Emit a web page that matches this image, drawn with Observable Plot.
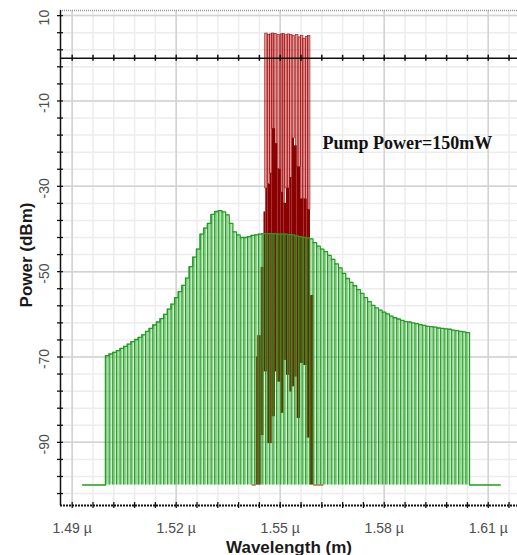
<!DOCTYPE html>
<html><head><meta charset="utf-8">
<script src="https://cdn.jsdelivr.net/npm/d3@7"></script>
<script src="https://cdn.jsdelivr.net/npm/@observablehq/plot@0.6"></script>
<style>
html,body{margin:0;padding:0;background:#fff;}
#chart{width:517px;height:555px;overflow:hidden;}
</style></head><body><div id="chart"></div>
<script>
// ---- axes / ticks ----
const xDomain = [1.48663, 1.61844];
const yDomain = [-104.8, 11.2];
const xMajorTicks = [1.49, 1.52, 1.55, 1.58, 1.61];
const xMinorTicks = [1.490,1.496,1.502,1.508,1.514,1.520,1.526,1.532,1.538,1.544,1.550,1.556,1.562,1.568,1.574,1.580,1.586,1.592,1.598,1.604,1.610,1.616];
const yMajorTicks = [10, -10, -30, -50, -70, -90];
const yMinorTicks = [10,6,2,-2,-6,-10,-14,-18,-22,-26,-30,-34,-38,-42,-46,-50,-54,-58,-62,-66,-70,-74,-78,-82,-86,-90,-94,-98,-102];
const floorLevel = -100;
const refLevel = 0;

// ---- green series (WDM channels) ----
const greenStart = 1.4996;
const greenSpacing = 0.00105;
const greenFloorLeft = 1.493;
const greenFloorRight = 1.6135;
const greenPower = [
 -69.7,-69.3,-68.9,-68.5,-68.0,-67.5,-67.0,-66.4,-65.9,-65.4,
 -64.8,-64.0,-63.3,-62.5,-61.8,-61.0,-60.0,-58.8,-57.6,-56.1,
 -54.7,-53.2,-51.5,-48.8,-46.6,-44.7,-41.2,-39.8,-38.7,-36.6,
 -35.9,-35.7,-36.0,-36.7,-38.7,-40.7,-41.4,-42.0,-42.0,-41.8,
 -41.5,-41.4,-41.2,-41.1,-41.1,-41.1,-41.1,-41.2,-41.2,-41.2,
 -41.3,-41.4,-41.6,-41.8,-42.0,-42.1,-42.3,-43.2,-44.0,-44.7,
 -45.3,-46.2,-47.1,-48.2,-49.1,-50.4,-51.6,-52.5,-53.3,-54.2,
 -55.1,-56.1,-57.0,-57.9,-58.5,-59.0,-59.5,-59.9,-60.4,-60.8,
 -61.1,-61.4,-61.7,-61.8,-62.0,-62.2,-62.4,-62.6,-62.8,-62.9,
 -63.0,-63.2,-63.3,-63.4,-63.5,-63.7,-63.8,-64.0,-64.1,-64.3];

// ---- red series (pumped signal) ----
const redColEdges = [1.54316,1.54353,1.54451,1.54532,1.54584,1.54642,1.54720,1.54769,1.54864,1.54930,1.55028,1.55103,1.55181,1.55276,1.55346,1.55412,1.55490,1.55585,1.55680,1.55778,1.55873,1.55969];
const redColTop    = [-70,-65,-49,-36,-30.5,-29.5,-27,-16.5,-20,-26,-31.5,-34,-30.5,-28,-18.8,-20.5,-25.5,-33,-33,-35.5,-55.6];
const redColBottom = [-100,-100,-88.4,-73.5,-73.5,-90.3,-90.3,-84,-73.5,-75.9,-83.2,-70.8,-74.3,-78.2,-77,-74.7,-84.4,-71.5,-72,-89,-100];
const redSpikeWl   = [1.54604,1.54671,1.54740,1.54798,1.54864,1.54959,1.55057,1.55103,1.55181,1.55247,1.55317,1.55392,1.55490,1.55565,1.55634,1.55700,1.55778,1.55836];
const redSpikePeak = [5.8,5.5,5.6,5.8,5.7,5.5,5.6,5.7,5.4,5.6,5.5,5.2,5.5,4.9,5.3,4.6,5.0,5.2];
const redFloorStart = [1.54192, 1.55969];
const redFloorEnd   = [1.54316, 1.56257];

const annotationText = ["Pump Power=150mW"];
const annotationWl = [1.5622];
const annotationDbm = [-20];

// ---- build tables ----
const greenBars = greenPower.map((v, i) => ({x1: greenStart + i * greenSpacing, x2: greenStart + (i + 1) * greenSpacing, v}));
const greenOutline = [{x: greenFloorLeft, v: floorLevel}]
  .concat(greenBars.map(d => ({x: d.x1, v: d.v})))
  .concat([{x: greenBars[greenBars.length - 1].x2, v: floorLevel}, {x: greenFloorRight, v: floorLevel}]);
const redCols = redColTop.map((t, i) => ({x1: redColEdges[i], x2: redColEdges[i + 1], top: t, bottom: redColBottom[i]}));
const baseAt = wl => { const c = redCols.find(c => wl >= c.x1 && wl < c.x2); return c ? c.top : -40; };
const redSpikes = redSpikeWl.map((wl, i) => ({wl, peak: redSpikePeak[i], base: baseAt(wl)}));
const redFloor = redFloorStart.map((s, i) => ({x1: s, x2: redFloorEnd[i]}));
const annotations = annotationText.map((t, i) => ({t, wl: annotationWl[i], dbm: annotationDbm[i]}));
const halfSpike = 0.00036;

const chart = Plot.plot({
  width: 517, height: 555,
  marginLeft: 60, marginRight: 0, marginTop: 10, marginBottom: 50,
  x: {domain: xDomain, axis: null},
  y: {domain: yDomain, axis: null},
  style: {fontFamily: "'Liberation Sans', Arial, sans-serif", background: "#fff", overflow: "visible"},
  marks: [
    // grid
    Plot.ruleX(xMinorTicks, {x: d => d, stroke: "#ececec", strokeWidth: 1.5}),
    Plot.ruleY(yMinorTicks, {y: d => d, stroke: "#ececec", strokeWidth: 1.5}),
    Plot.ruleX(xMajorTicks, {x: d => d, stroke: "#d2d2d2", strokeWidth: 1.5}),
    Plot.ruleY(yMajorTicks, {y: d => d, stroke: "#d2d2d2", strokeWidth: 1.5}),
    // red series
    Plot.rect(redSpikes, {x1: d => d.wl - halfSpike, x2: d => d.wl + halfSpike, y1: "base", y2: "peak", fill: "#b00000", fillOpacity: 0.4, stroke: "#a00a0a", strokeWidth: 0.6}),
    Plot.rect(redCols, {x1: "x1", x2: "x2", y1: "bottom", y2: "top", fill: "#8b0000"}),
    Plot.ruleY(redFloor, {y: floorLevel, x1: "x1", x2: "x2", stroke: "#c0392b", strokeWidth: 1.2}),
    // green series
    Plot.rect(greenBars, {x1: "x1", x2: "x2", y1: floorLevel, y2: "v", fill: "#28aa28", fillOpacity: 0.5, insetRight: 0.8}),
    Plot.ruleX(greenBars, {x: "x1", y1: floorLevel, y2: "v", stroke: "#1c9c1c", strokeWidth: 1}),
    Plot.line(greenOutline, {x: "x", y: "v", curve: "step-after", stroke: "#1f9f1f", strokeWidth: 1.3}),
    // 0 dBm reference line
    Plot.ruleY([refLevel], {y: d => d, stroke: "#111", strokeWidth: 1.5}),
    Plot.ruleX(xMinorTicks, {x: d => d, y1: refLevel - 0.7, y2: refLevel + 0.7, stroke: "#111", strokeWidth: 1.5}),
    // frame lines
    Plot.ruleY([yDomain[1]], {y: d => d, stroke: "#9a9a9a", strokeDasharray: "1,1", strokeWidth: 1.5}),
    Plot.ruleY([yDomain[0]], {y: d => d, stroke: "#111", strokeWidth: 2, strokeDasharray: "2,1"}),
    Plot.ruleX([xDomain[0]], {x: d => d, stroke: "#111", strokeWidth: 1.5}),
    Plot.tickY(yMinorTicks, {y: d => d, stroke: "#111", strokeWidth: 1.3, insetRight: 451, dx: -3}),
    Plot.tickX(xMinorTicks, {x: d => d, stroke: "#111", strokeWidth: 1.3, insetTop: 489, dy: 3}),
    // tick labels
    Plot.text(xMajorTicks, {x: d => d, frameAnchor: "bottom", dy: 27, text: d => d.toFixed(2) + " µ", fill: "#4d4d4d", fontSize: 14}),
    Plot.text(yMajorTicks, {y: d => d, frameAnchor: "left", dx: -16, dy: 2, rotate: -90, textAnchor: "middle", lineAnchor: "middle", text: d => String(d), fill: "#4d4d4d", fontSize: 14}),
    // axis titles
    Plot.text(["Wavelength (m)"], {frameAnchor: "bottom", dy: 47, text: d => d, fontWeight: "bold", fontSize: 17, fill: "#1a1a1a"}),
    Plot.text(["Power (dBm)"], {frameAnchor: "left", dx: -34, dy: -3, rotate: -90, textAnchor: "middle", lineAnchor: "middle", text: d => d, fontWeight: "bold", fontSize: 17, fill: "#1a1a1a"}),
    // annotation
    Plot.text(annotations, {x: "wl", y: "dbm", text: "t", textAnchor: "start", fontFamily: "'Liberation Serif', 'Times New Roman', serif", fontWeight: "bold", fontSize: 18, fill: "#111"})
  ]
});
document.getElementById("chart").appendChild(chart);
</script>
</body></html>
